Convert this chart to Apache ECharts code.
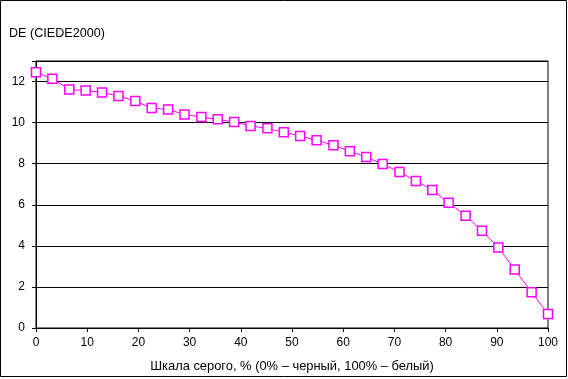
<!DOCTYPE html>
<html><head><meta charset="utf-8">
<script src="https://cdn.jsdelivr.net/npm/echarts@6/dist/echarts.min.js"></script>
<style>html,body{margin:0;padding:0;background:#fff}#c{width:568px;height:379px}</style>
</head><body><div id="c"></div>
<script>
const xValues = [0, 3.2, 6.5, 9.7, 12.9, 16.1, 19.4, 22.6, 25.8, 29.0, 32.3, 35.5, 38.7, 41.9, 45.2, 48.4, 51.6, 54.8, 58.1, 61.3, 64.5, 67.7, 71.0, 74.2, 77.4, 80.6, 83.9, 87.1, 90.3, 93.5, 96.8, 100];
const deValues = [12.45, 12.14, 11.61, 11.56, 11.47, 11.30, 11.05, 10.71, 10.64, 10.40, 10.27, 10.16, 10.03, 9.84, 9.72, 9.53, 9.35, 9.14, 8.90, 8.61, 8.32, 7.98, 7.60, 7.16, 6.72, 6.10, 5.47, 4.74, 3.92, 2.85, 1.74, 0.68];
const yTitle = 'DE (CIEDE2000)';
const xTitle = 'Шкала серого, % (0% – черный, 100% – белый)';

const font = 'Arial, "Liberation Sans", sans-serif';
const chart = echarts.init(document.getElementById('c'), null, {renderer: 'canvas'});
chart.setOption({
  animation: false,
  backgroundColor: '#fff',
  graphic: [
    {type: 'rect', shape: {x: 0.5, y: 0.5, width: 566, height: 376}, style: {fill: 'none', stroke: '#000', lineWidth: 1}, z: 100},
    {type: 'text', left: 9, top: 27, style: {text: yTitle, font: '12.6px ' + font, fill: '#000'}}
  ],
  grid: {left: 36, right: 20, top: 61, bottom: 51, show: true, borderColor: '#000', borderWidth: 1, backgroundColor: 'transparent'},
  xAxis: {
    type: 'value', min: 0, max: 100, interval: 10,
    name: xTitle, nameLocation: 'middle', nameGap: 32,
    nameTextStyle: {color: '#000', fontSize: 12.9, fontFamily: font},
    axisLine: {lineStyle: {color: '#000', width: 1}},
    axisTick: {show: true, length: 4, lineStyle: {color: '#000'}},
    axisLabel: {color: '#000', fontSize: 12, fontFamily: font, margin: 9},
    splitLine: {show: false}
  },
  yAxis: {
    type: 'value', min: 0, max: 13, interval: 2,
    axisLine: {show: true, lineStyle: {color: '#000', width: 1}},
    axisTick: {show: true, length: 4, lineStyle: {color: '#000'}},
    axisLabel: {color: '#000', fontSize: 12, fontFamily: font, margin: 11,
      formatter: v => (v % 2 === 0 ? String(v) : '')},
    splitLine: {show: true, lineStyle: {color: '#000', width: 1}}
  },
  series: [{
    type: 'line',
    data: xValues.map((x, i) => [x, deValues[i]]),
    symbol: 'rect', symbolSize: 9,
    lineStyle: {color: '#ff00ff', width: 1},
    itemStyle: {color: '#fff', borderColor: '#ff00ff', borderWidth: 1.5},
    z: 5
  }]
});
</script></body></html>
